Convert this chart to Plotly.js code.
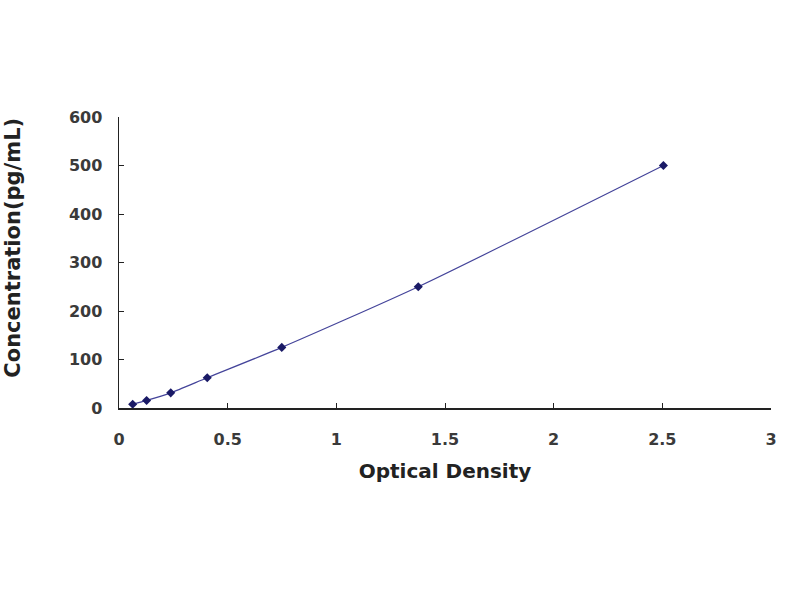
<!DOCTYPE html>
<html>
<head>
<meta charset="utf-8">
<script src="https://cdn.plot.ly/plotly-3.0.1.min.js"></script>
<style>
  html, body { margin: 0; padding: 0; background: #fff; }
  #chart { width: 800px; height: 600px; }
</style>
</head>
<body>
<div id="chart"></div>
<script>
// standard curve: optical density vs concentration
const opticalDensity = [0.063, 0.127, 0.238, 0.406, 0.749, 1.377, 2.505];
const concentration = [7.8, 15.6, 31.25, 62.5, 125, 250, 500];

const xTicks = [0, 0.5, 1, 1.5, 2, 2.5, 3];
const xTickLabels = ['0', '0.5', '1', '1.5', '2', '2.5', '3'];
const yTicks = [0, 100, 200, 300, 400, 500, 600];

const xTitle = 'Optical Density';
const yTitle = 'Concentration(pg/mL)';

const trace = {
    x: opticalDensity,
    y: concentration,
    type: 'scatter',
    mode: 'lines+markers',
    line: { color: '#44449a', width: 1.2, shape: 'spline', smoothing: 0.6 },
    marker: { symbol: 'diamond', size: 7, color: '#1a1a66' },
    hoverinfo: 'none'
};

const tickFont = { family: 'DejaVu Sans, sans-serif', size: 16, weight: 'bold', color: '#3a3a3a' };
const titleFont = { family: 'DejaVu Sans, sans-serif', size: 20, weight: 'bold', color: '#222' };

const layout = {
    width: 800,
    height: 600,
    margin: { l: 119, r: 29, t: 117, b: 192 },
    paper_bgcolor: '#fff',
    plot_bgcolor: '#fff',
    showlegend: false,
    xaxis: {
        range: [0, 3],
        tickvals: xTicks,
        ticktext: xTickLabels,
        ticks: 'inside',
        ticklen: 5,
        tickcolor: '#222',
        ticklabelstandoff: 16,
        showline: true,
        linecolor: '#222',
        linewidth: 1.5,
        showgrid: false,
        zeroline: false,
        tickfont: tickFont,
        title: { text: xTitle, font: titleFont, standoff: 16 }
    },
    yaxis: {
        range: [0, 600],
        tickvals: yTicks,
        ticktext: yTicks.map(String),
        ticks: 'inside',
        ticklen: 5,
        tickcolor: '#222',
        ticklabelstandoff: 12,
        showline: true,
        linecolor: '#222',
        linewidth: 1.5,
        showgrid: false,
        zeroline: false,
        tickfont: tickFont
    },
    // y title placed as an annotation so it sits where the reference has it
    annotations: [{
        text: yTitle,
        textangle: -90,
        font: { family: 'DejaVu Sans, sans-serif', size: 21, weight: 'bold', color: '#222' },
        xref: 'paper', yref: 'paper',
        x: -0.163, y: 0.55,
        xanchor: 'center', yanchor: 'middle',
        showarrow: false
    }]
};

Plotly.newPlot('chart', [trace], layout, { displayModeBar: false, staticPlot: true });
</script>
</body>
</html>
